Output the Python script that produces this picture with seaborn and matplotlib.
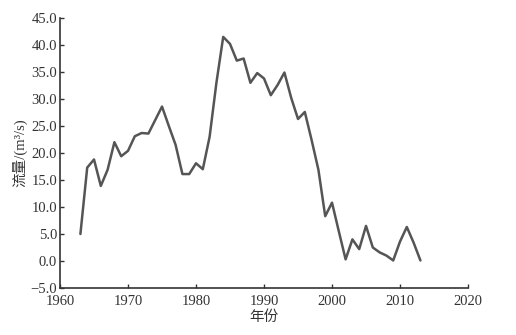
import matplotlib
matplotlib.use("Agg")
import matplotlib.pyplot as plt
import seaborn as sns
import pandas as pd

years = list(range(1963, 2014))
flow = [5.0, 17.3, 18.8, 13.9, 16.9, 22.0, 19.4, 20.4, 23.1, 23.7, 23.6, 26.1, 28.6,
        25.0, 21.5, 16.1, 16.1, 18.1, 17.0, 23.0, 33.0, 41.5, 40.2, 37.1, 37.5, 33.0,
        34.8, 33.8, 30.7, 32.6, 34.9, 30.2, 26.3, 27.6, 22.4, 16.9, 8.3, 10.8, 5.5,
        0.3, 4.0, 2.2, 6.5, 2.5, 1.6, 1.0, 0.1, 3.6, 6.3, 3.4, 0.1]
xticks = [1960, 1970, 1980, 1990, 2000, 2010, 2020]
yticks = [-5.0, 0.0, 5.0, 10.0, 15.0, 20.0, 25.0, 30.0, 35.0, 40.0, 45.0]

df = pd.DataFrame({"year": years, "flow": flow})

sns.set_style("ticks")
fam = ["Liberation Serif", "Noto Sans CJK SC"]
plt.rcParams["font.family"] = fam

fig = plt.figure(figsize=(5.16, 3.35), dpi=100)
ax = fig.add_axes([0.1163, 0.1403, 0.7907, 0.806])
sns.lineplot(data=df, x="year", y="flow", ax=ax, color="#555555", linewidth=1.8)

ax.set_xlim(1960, 2020)
ax.set_ylim(-5, 45)
ax.set_xticks(xticks)
ax.set_yticks(yticks)
ax.set_yticklabels([f"{v:.1f}".replace("-", "\u2212") for v in yticks])
ax.tick_params(direction="in", length=3, width=1, labelsize=10.5, colors="#333333")
ax.tick_params(axis="y", pad=2)
ax.tick_params(axis="x", pad=5)
for s in ["top", "right"]:
    ax.spines[s].set_visible(False)
for s in ["left", "bottom"]:
    ax.spines[s].set_color("#333333")
    ax.spines[s].set_linewidth(1.2)
ax.set_xlabel("年份", fontsize=10.5, color="#333333", labelpad=2, family=fam)
ax.set_ylabel("流量/(m\u00b3/s)", fontsize=10.5, color="#333333", labelpad=2, family=fam)

fig.savefig("out.png", dpi=100, facecolor="white")
